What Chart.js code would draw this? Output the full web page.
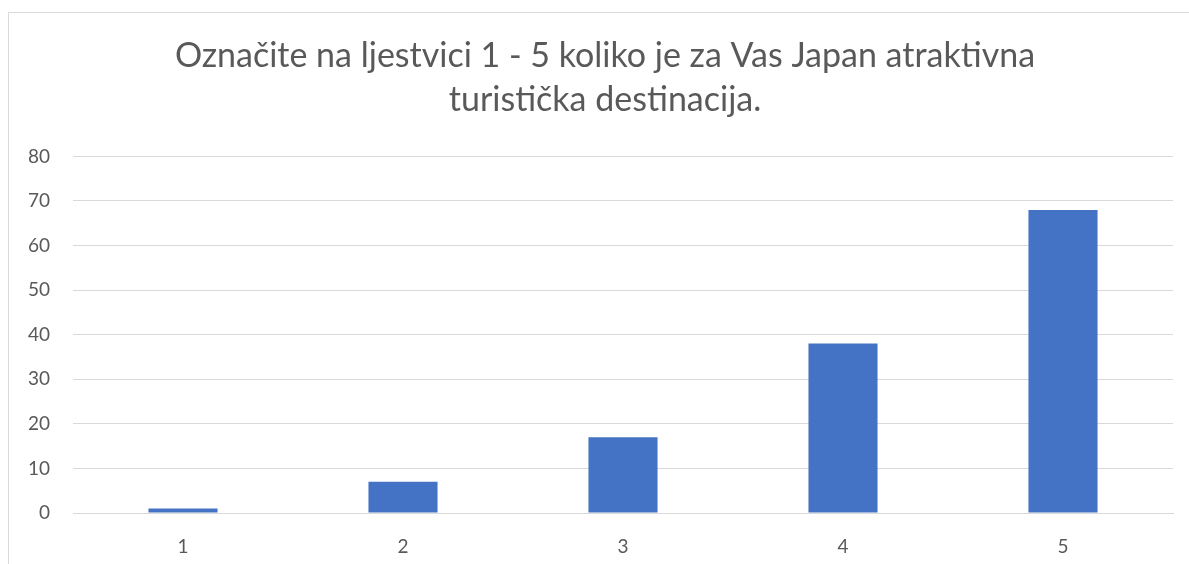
<!DOCTYPE html>
<html>
<head>
<meta charset="utf-8">
<script src="https://cdn.jsdelivr.net/npm/chart.js@4"></script>
<style>
  html, body { margin: 0; padding: 0; background: #fff; }
  #wrap { position: relative; width: 1189px; height: 564px; overflow: hidden; }
  #frame { position: absolute; left: 8px; top: 12px; width: 1200px; height: 600px; border: 1px solid #d9d9d9; box-sizing: border-box; }
  canvas { position: absolute; left: 0; top: 0; }
</style>
</head>
<body>
<div id="wrap">
  <div id="frame"></div>
  <canvas id="chart" width="1189" height="564"></canvas>
</div>
<script>
const categories = ['1', '2', '3', '4', '5']
const values = [1, 7, 17, 38, 68]
const titleLines = ['Označite na ljestvici 1 - 5 koliko je za Vas Japan atraktivna', 'turistička destinacija.']

// nudge the title a little to the right, like the original
const titleShift = {
    id: 'titleShift',
    afterLayout(chart) {
        if (chart.titleBlock) chart.titleBlock.left += 17
    }
}

const canvas = document.getElementById('chart')
const chart = new Chart(canvas, {
    type: 'bar',
    data: {
        labels: categories,
        datasets: [{
            data: values,
            backgroundColor: '#4472C4',
            borderWidth: 0,
            categoryPercentage: 1,
            barPercentage: 0.314
        }]
    },
    options: {
        responsive: false,
        animation: false,
        layout: { padding: { left: 20, right: 16, top: 0, bottom: 0 } },
        plugins: {
            legend: { display: false },
            tooltip: { enabled: false },
            title: {
                display: true,
                text: titleLines,
                color: '#595959',
                font: { family: 'Lato', size: 34, weight: 'normal', lineHeight: 1.3 },
                padding: { top: 34, bottom: 34 }
            }
        },
        scales: {
            x: {
                grid: { display: false, drawTicks: false },
                border: { display: true, color: '#d9d9d9', width: 1 },
                ticks: { color: '#595959', font: { family: 'Lato', size: 19 }, padding: 22 },
                afterFit: (axis) => { axis.height = 51 }
            },
            y: {
                min: 0,
                max: 80,
                ticks: { stepSize: 10, color: '#595959', font: { family: 'Lato', size: 19 }, padding: 23 },
                grid: { color: '#d9d9d9', lineWidth: 1, drawTicks: false },
                border: { display: false },
                afterFit: (axis) => { axis.width = 53 }
            }
        }
    },
    plugins: [titleShift]
})
</script>
</body>
</html>
